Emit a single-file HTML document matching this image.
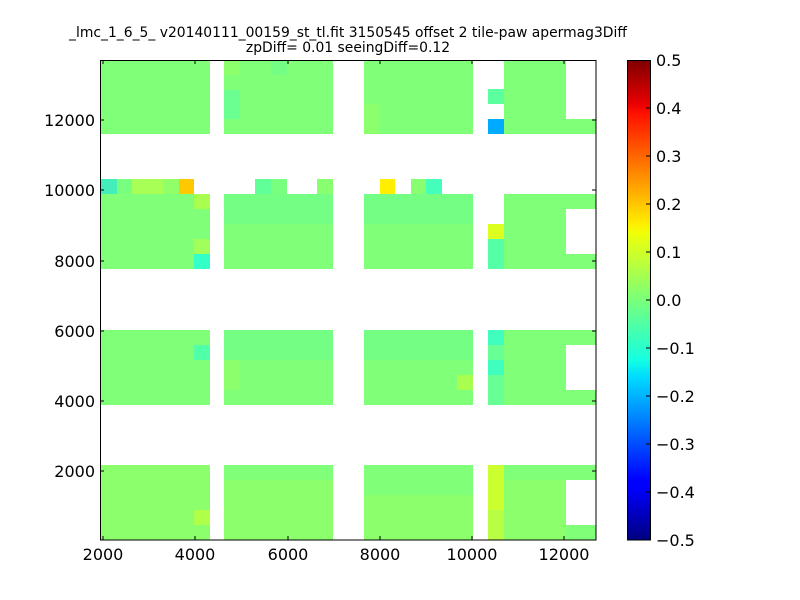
<!DOCTYPE html>
<html><head><meta charset="utf-8"><style>
body{margin:0;background:#fff;}
svg{display:block;}
text{font-family:"DejaVu Sans","Liberation Sans",sans-serif;}
</style></head><body>
<svg width="800" height="600" viewBox="0 0 800 600" xmlns="http://www.w3.org/2000/svg">
<defs>
<linearGradient id="jet" x1="0" y1="1" x2="0" y2="0">
<stop offset="0" stop-color="#000080"/>
<stop offset="0.11" stop-color="#0000ff"/>
<stop offset="0.125" stop-color="#0000ff"/>
<stop offset="0.34" stop-color="#00dbff"/>
<stop offset="0.375" stop-color="#14ffe2"/>
<stop offset="0.5" stop-color="#7aff7a"/>
<stop offset="0.64" stop-color="#f0ff08"/>
<stop offset="0.66" stop-color="#ffed00"/>
<stop offset="0.89" stop-color="#ff1000"/>
<stop offset="0.91" stop-color="#e80000"/>
<stop offset="1" stop-color="#800000"/>
</linearGradient>
</defs>
<text x="348" y="37" font-size="13.9" text-anchor="middle">_lmc_1_6_5_ v20140111_00159_st_tl.fit 3150545 offset 2 tile-paw apermag3Diff</text>
<text x="348" y="52" font-size="13.9" text-anchor="middle">zpDiff= 0.01 seeingDiff=0.12</text>

<g shape-rendering="crispEdges">
<g fill="#80ff78">
<rect x="101" y="60" width="109" height="74"/>
<rect x="224" y="60" width="109" height="74"/>
<rect x="364" y="60" width="109" height="74"/>
<rect x="504" y="60" width="62" height="74"/>
<rect x="566" y="119" width="30" height="15"/>
<rect x="101" y="194" width="109" height="75"/>
<rect x="224" y="194" width="109" height="75"/>
<rect x="364" y="194" width="109" height="75"/>
<rect x="504" y="194" width="92" height="75"/>
<rect x="101" y="330" width="109" height="75"/>
<rect x="224" y="330" width="109" height="75"/>
<rect x="364" y="330" width="109" height="75"/>
<rect x="504" y="330" width="92" height="75"/>
<rect x="101" y="465" width="109" height="75"/>
<rect x="224" y="465" width="109" height="75"/>
<rect x="364" y="465" width="109" height="75"/>
<rect x="504" y="465" width="92" height="75"/>
</g>
<g fill="#74ff84">
<rect x="224" y="194" width="109" height="30"/>
<rect x="364" y="194" width="109" height="30"/>
<rect x="224" y="330" width="109" height="30"/>
<rect x="364" y="330" width="109" height="30"/>
<rect x="271" y="60" width="16" height="15"/>
</g>
<g fill="#8cff6c">
<rect x="101" y="465" width="109" height="75"/>
<rect x="224" y="480" width="109" height="60"/>
<rect x="364" y="495" width="109" height="45"/>
<rect x="504" y="480" width="62" height="60"/>
<rect x="224" y="60" width="16" height="15"/>
<rect x="364" y="104" width="16" height="30"/>
<rect x="224" y="360" width="16" height="30"/>
</g>
<rect x="566" y="209" width="30" height="45" fill="#fff"/>
<rect x="566" y="345" width="30" height="45" fill="#fff"/>
<rect x="566" y="480" width="30" height="45" fill="#fff"/>
<rect x="194" y="194" width="16" height="15" fill="#a8ff50"/>
<rect x="194" y="239" width="16" height="15" fill="#a0ff58"/>
<rect x="194" y="254" width="16" height="15" fill="#33ffc8"/>
<rect x="194" y="345" width="16" height="15" fill="#50ffa8"/>
<rect x="194" y="510" width="16" height="15" fill="#b0ff48"/>
<rect x="457" y="375" width="16" height="15" fill="#a8ff50"/>
<rect x="224" y="90" width="16" height="29" fill="#6aff90"/>
<rect x="488" y="89" width="16" height="15" fill="#5cff9e"/>
<rect x="488" y="119" width="16" height="15" fill="#00aaff"/>
<rect x="488" y="224" width="16" height="15" fill="#dcff20"/>
<rect x="488" y="239" width="16" height="30" fill="#55ffa8"/>
<rect x="488" y="330" width="16" height="15" fill="#40ffbe"/>
<rect x="488" y="345" width="16" height="15" fill="#68ff94"/>
<rect x="488" y="360" width="16" height="15" fill="#40ffbe"/>
<rect x="488" y="375" width="16" height="30" fill="#68ff94"/>
<rect x="488" y="465" width="16" height="45" fill="#ccff30"/>
<rect x="488" y="510" width="16" height="30" fill="#b8ff44"/>
<rect x="101" y="179" width="16" height="15" fill="#44eebb"/>
<rect x="117" y="179" width="15" height="15" fill="#78ff80"/>
<rect x="132" y="179" width="31" height="15" fill="#a8ff55"/>
<rect x="163" y="179" width="16" height="15" fill="#90ff68"/>
<rect x="179" y="179" width="15" height="15" fill="#ffc800"/>
<rect x="255" y="179" width="16" height="15" fill="#60ff98"/>
<rect x="271" y="179" width="16" height="15" fill="#78ff80"/>
<rect x="317" y="179" width="16" height="15" fill="#88ff70"/>
<rect x="380" y="179" width="15" height="15" fill="#ffee00"/>
<rect x="411" y="179" width="15" height="15" fill="#88ff70"/>
<rect x="426" y="179" width="16" height="15" fill="#44ffbb"/>
</g>

<rect x="100.5" y="60.5" width="495.5" height="479.5" fill="none" stroke="#000" stroke-width="1"/>
<g stroke="#000" stroke-width="1">
<path d="M103 540v-4M195 540v-4M288 540v-4M380 540v-4M472 540v-4M564 540v-4"/>
<path d="M103 60v4M195 60v4M288 60v4M380 60v4M472 60v4M564 60v4"/>
<path d="M100 471h4M100 401h4M100 331h4M100 261h4M100 190h4M100 120h4"/>
<path d="M596 471h-4M596 401h-4M596 331h-4M596 261h-4M596 190h-4M596 120h-4"/>
</g>
<g font-size="16" text-anchor="middle">
<text x="103" y="560">2000</text>
<text x="195" y="560">4000</text>
<text x="288" y="560">6000</text>
<text x="380" y="560">8000</text>
<text x="472" y="560">10000</text>
<text x="564" y="560">12000</text>
</g>
<g font-size="16" text-anchor="end">
<text x="95" y="477">2000</text>
<text x="95" y="407">4000</text>
<text x="95" y="337">6000</text>
<text x="95" y="267">8000</text>
<text x="95" y="196">10000</text>
<text x="95" y="126">12000</text>
</g>

<rect x="627.5" y="60.5" width="23" height="479.5" fill="url(#jet)" stroke="#000" stroke-width="1"/>
<g stroke="#000" stroke-width="1">
<path d="M646 108h5M646 156h5M646 204h5M646 252h5M646 300h5M646 348h5M646 396h5M646 444h5M646 492h5"/>
</g>
<g font-size="16">
<text x="656" y="66">0.5</text>
<text x="656" y="114">0.4</text>
<text x="656" y="162">0.3</text>
<text x="656" y="210">0.2</text>
<text x="656" y="258">0.1</text>
<text x="656" y="306">0.0</text>
<text x="656" y="354">−0.1</text>
<text x="656" y="402">−0.2</text>
<text x="656" y="450">−0.3</text>
<text x="656" y="498">−0.4</text>
<text x="656" y="546">−0.5</text>
</g>
</svg>
</body></html>
